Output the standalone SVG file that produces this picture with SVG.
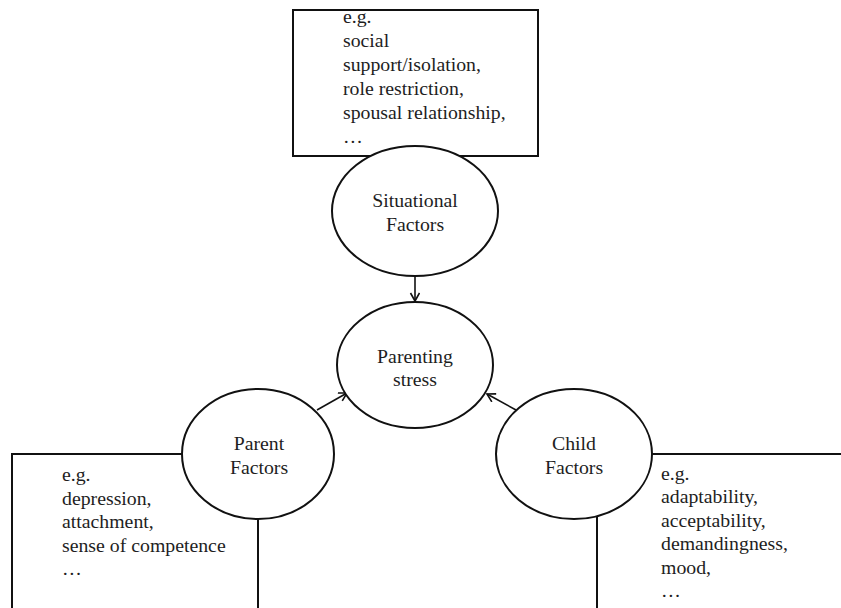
<svg xmlns="http://www.w3.org/2000/svg" width="841" height="608" viewBox="0 0 841 608" font-family="'Liberation Serif', 'Times New Roman', serif">
<style>
text{font-family:'Liberation Serif','Times New Roman',serif;font-size:19.8px;fill:#1e1e1e}
.box{fill:#fff;stroke:#111;stroke-width:2}
.node{fill:#fff;stroke:#111;stroke-width:2}
.c{text-anchor:middle}
.edge{stroke:#111;stroke-width:1.6;fill:none}
</style>
<defs>
<marker id="arr" markerUnits="userSpaceOnUse" markerWidth="12" markerHeight="12" refX="9" refY="5" orient="auto">
<path d="M1,0.5 L9,5 L1,9.5" fill="none" stroke="#111" stroke-width="1.6"/>
</marker>
</defs>
<g id="situational-box">
<rect class="box" x="293" y="10" width="245" height="146"/>
<text x="343" y="23">e.g.</text>
<text x="343" y="47">social</text>
<text x="343" y="71">support/isolation,</text>
<text x="343" y="95">role restriction,</text>
<text x="343" y="119">spousal relationship,</text>
<text x="343" y="143">…</text>
</g>
<g id="parent-box">
<rect class="box" x="12" y="454" width="246" height="160"/>
<text x="62" y="481">e.g.</text>
<text x="62" y="505">depression,</text>
<text x="62" y="528">attachment,</text>
<text x="62" y="552">sense of competence</text>
<text x="62" y="575">…</text>
</g>
<g id="child-box">
<rect class="box" x="597" y="454" width="260" height="160"/>
<text x="661" y="480">e.g.</text>
<text x="661" y="503">adaptability,</text>
<text x="661" y="527">acceptability,</text>
<text x="661" y="550">demandingness,</text>
<text x="661" y="574">mood,</text>
<text x="661" y="597">…</text>
</g>
<g id="connectors">
<line class="edge" x1="415" y1="276" x2="415" y2="301" marker-end="url(#arr)"/>
<line class="edge" x1="317" y1="410" x2="347" y2="393" marker-end="url(#arr)"/>
<line class="edge" x1="516" y1="410" x2="487" y2="394" marker-end="url(#arr)"/>
</g>
<g id="situational">
<ellipse class="node" cx="415" cy="211" rx="83" ry="65"/>
<text class="c" x="415" y="207">Situational</text>
<text class="c" x="415" y="231">Factors</text>
</g>
<g id="parenting-stress">
<ellipse class="node" cx="415" cy="365" rx="78" ry="63"/>
<text class="c" x="415" y="363">Parenting</text>
<text class="c" x="415" y="386">stress</text>
</g>
<g id="parent">
<ellipse class="node" cx="258" cy="454" rx="76" ry="65"/>
<text class="c" x="259" y="450">Parent</text>
<text class="c" x="259" y="474">Factors</text>
</g>
<g id="child">
<ellipse class="node" cx="574" cy="454" rx="78" ry="65"/>
<text class="c" x="574" y="450">Child</text>
<text class="c" x="574" y="474">Factors</text>
</g>
</svg>
